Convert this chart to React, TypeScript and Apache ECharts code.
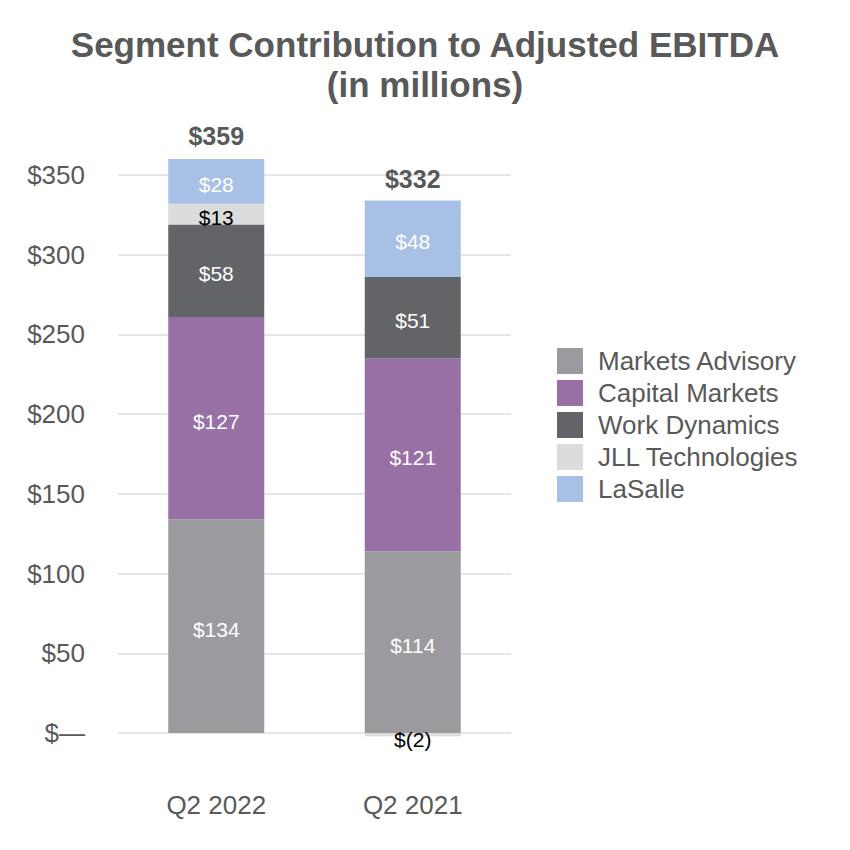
import React, { useEffect, useRef } from "react";
import * as echarts from "echarts";

const categories = ["Q2 2022", "Q2 2021"];
const marketsAdvisory = [134, 114];
const capitalMarkets = [127, 121];
const workDynamics = [58, 51];
const jllTechnologies = [13, -2];
const laSalle = [28, 48];
const totals = [359, 332];
const yTicks = [0, 50, 100, 150, 200, 250, 300, 350];

const TXT = "#595959";
const FONT = "'Liberation Sans', Arial, sans-serif";

const fmt = (v: number) => (v < 0 ? "$(" + -v + ")" : "$" + v);

export default function App() {
  const ref = useRef<HTMLDivElement>(null);
  useEffect(() => {
    if (!ref.current) return;
    const chart = echarts.init(ref.current, undefined, { renderer: "svg" });
    const seg = (name: string, data: number[], color: string, labelColor: string) => ({
      name,
      type: "bar",
      stack: "total",
      data,
      barWidth: 96,
      clip: false,
      itemStyle: { color },
      label: {
        show: true,
        position: "inside",
        offset: [0, 3],
        color: labelColor,
        fontSize: 21,
        fontFamily: FONT,
        formatter: (p: any) => fmt(p.value),
      },
    });
    chart.setOption({
      animation: false,
      textStyle: { fontFamily: FONT },
      title: {
        text: "Segment Contribution to Adjusted EBITDA\n(in millions)",
        left: "center",
        top: 11,
        textStyle: {
          fontSize: 35,
          fontWeight: "bold",
          color: TXT,
          lineHeight: 40,
          fontFamily: FONT,
        },
      },
      legend: {
        orient: "vertical",
        left: 544,
        top: 335,
        itemWidth: 26,
        itemHeight: 26,
        itemGap: 6,
        icon: "rect",
        textStyle: { fontSize: 26, color: TXT, fontFamily: FONT, padding: [0, 0, 0, 10] },
        data: ["Markets Advisory", "Capital Markets", "Work Dynamics", "JLL Technologies", "LaSalle"],
      },
      grid: { left: 110, right: 331, top: 167, bottom: 109 },
      xAxis: {
        type: "category",
        data: categories,
        axisLine: { show: false },
        axisTick: { show: false },
        axisLabel: { fontSize: 26, color: TXT, margin: 59, fontFamily: FONT },
      },
      yAxis: {
        type: "value",
        min: yTicks[0],
        max: yTicks[yTicks.length - 1],
        interval: 50,
        axisLine: { show: false },
        axisTick: { show: false },
        splitLine: { lineStyle: { color: "#e6e6e6", width: 2 } },
        axisLabel: {
          fontSize: 26,
          color: TXT,
          margin: 33,
          fontFamily: FONT,
          formatter: (v: number) => (v === 0 ? "$\u2014" : "$" + v),
        },
      },
      series: [
        seg("Markets Advisory", marketsAdvisory, "#9b9b9f", "#ffffff"),
        seg("Capital Markets", capitalMarkets, "#9970a6", "#ffffff"),
        seg("Work Dynamics", workDynamics, "#636468", "#ffffff"),
        {
          ...seg("JLL Technologies", jllTechnologies, "#dcdcdc", "#000000"),
          data: jllTechnologies.map((v) =>
            v < 0 ? { value: v, label: { offset: [0, 5] } } : { value: v }
          ),
        },
        seg("LaSalle", laSalle, "#a9c0e6", "#ffffff"),
        {
          name: "Total",
          type: "scatter",
          data: totals,
          symbolSize: 0,
          clip: false,
          silent: true,
          itemStyle: { opacity: 1, color: TXT },
          label: {
            show: true,
            position: "top",
            distance: 12,
            fontSize: 25,
            fontWeight: "bold",
            color: TXT,
            fontFamily: FONT,
            formatter: (p: any) => "$" + p.value,
          },
        },
      ],
    });
    return () => chart.dispose();
  }, []);
  return <div ref={ref} style={{ width: 834, height: 834 }} />;
}
